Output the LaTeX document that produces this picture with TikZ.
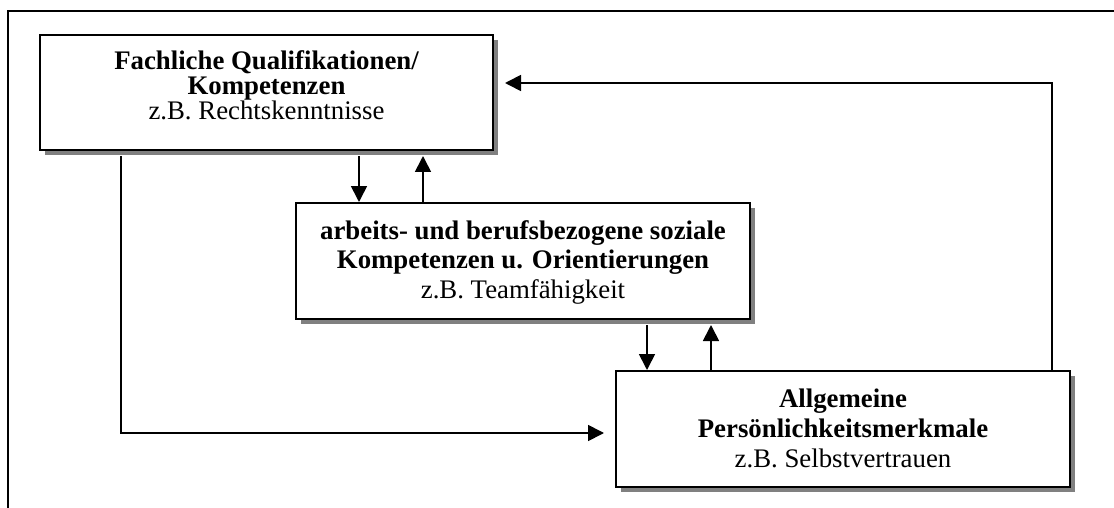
\documentclass[tikz,border=0pt]{standalone}
\usepackage{fontspec}
\setmainfont{Liberation Serif}
\usetikzlibrary{arrows.meta,shadows}
\begin{document}
\begin{tikzpicture}[x=1pt,y=-1pt,
  box/.style={draw=black, line width=2pt, fill=white, rectangle, inner sep=0pt,
    drop shadow={shadow xshift=5pt, shadow yshift=-5pt, fill=black!50, opacity=1}},
  arr/.style={line width=1.7pt, -{Triangle[length=16pt,width=16pt]}},
  txt/.style={anchor=base, inner sep=0pt},
  frame/.style={line width=2pt}]
\useasboundingbox (0,0) rectangle (1114,508);
\draw[frame] (8,512) -- (8,11) -- (1118,11);

\node[box, minimum width=453pt, minimum height=115pt] (b1) at (266.5,92.5) {};
\node[box, minimum width=454pt, minimum height=116pt] (b2) at (523,261) {};
\node[box, minimum width=454pt, minimum height=116pt] (b3) at (843,429) {};

\node[txt, font=\fontsize{26.8}{23}\selectfont] (t1) at (266.5,70)
  {\begin{tabular}[t]{@{}c@{}}\bfseries Fachliche Qualifikationen/\\ \bfseries Kompetenzen\\ z.B. Rechtskenntnisse\end{tabular}};
\node[txt, font=\fontsize{26.8}{29.5}\selectfont] (t2) at (523,239)
  {\begin{tabular}[t]{@{}c@{}}\bfseries arbeits- und berufsbezogene soziale\\ \bfseries Kompetenzen u. Orientierungen\\ z.B. Teamfähigkeit\end{tabular}};
\node[txt, font=\fontsize{26.8}{30}\selectfont] (t3) at (843,407)
  {\begin{tabular}[t]{@{}c@{}}\bfseries Allgemeine\\ \bfseries Persönlichkeitsmerkmale\\ z.B. Selbstvertrauen\end{tabular}};

\draw[arr] ([xshift=320pt,yshift=-5pt]b1.south west) -- ([xshift=64pt]b2.north west);
\draw[arr] ([xshift=128pt]b2.north west) -- ([xshift=384pt,yshift=-5pt]b1.south west);
\draw[arr] ([xshift=352pt,yshift=-5pt]b2.south west) -- ([xshift=32pt]b3.north west);
\draw[arr] ([xshift=96pt]b3.north west) -- ([xshift=416pt,yshift=-5pt]b2.south west);
\draw[arr] ([xshift=82pt,yshift=-5pt]b1.south west) |- ([xshift=-11pt,yshift=-4pt]b3.west);
\draw[arr] ([xshift=-19pt]b3.north east) |- ([xshift=11pt,yshift=9.5pt]b1.east);
\end{tikzpicture}
\end{document}
